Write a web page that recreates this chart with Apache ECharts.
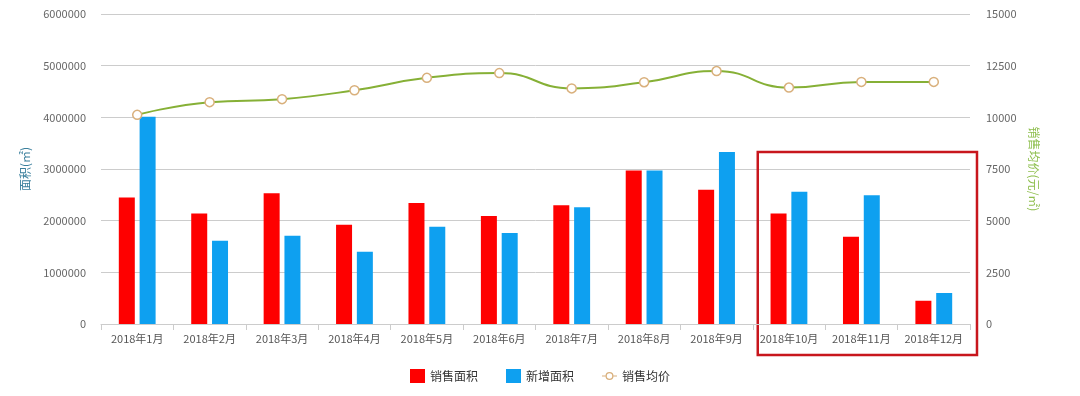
<!DOCTYPE html>
<html><head><meta charset="utf-8">
<script src="https://cdn.jsdelivr.net/npm/echarts@6/dist/echarts.min.js"></script>
<style>html,body{margin:0;padding:0;background:#fff}#c{width:1080px;height:396px}</style>
</head><body><div id="c"></div>
<script>
const categories = ['2018年1月','2018年2月','2018年3月','2018年4月','2018年5月','2018年6月','2018年7月','2018年8月','2018年9月','2018年10月','2018年11月','2018年12月'];
const salesArea = [2450000,2140000,2530000,1920000,2340000,2090000,2300000,2970000,2600000,2140000,1690000,450000];
const newArea = [4010000,1610000,1710000,1400000,1880000,1760000,2260000,2970000,3330000,2560000,2490000,600000];
const avgPrice = [10120,10735,10880,11310,11910,12140,11400,11700,12240,11440,11715,11715];
const leftTicks = [0,1000000,2000000,3000000,4000000,5000000,6000000];
const rightTicks = [0,2500,5000,7500,10000,12500,15000];

const FONT = '"Noto Sans CJK SC", "Noto Sans", sans-serif';
const ringIcon = 'path://M0,6.4 L3.5,6.4 L3.5,7.6 L0,7.6 Z M11.5,6.4 L15,6.4 L15,7.6 L11.5,7.6 Z ' +
  'M3.5,7 A4,4 0 1,1 11.5,7 A4,4 0 1,1 3.5,7 Z M4.8,7 A2.7,2.7 0 1,0 10.2,7 A2.7,2.7 0 1,0 4.8,7 Z';
const chart = echarts.init(document.getElementById('c'));
const option = {
  backgroundColor: '#fff',
  textStyle: {fontFamily: FONT},
  animation: false,
  grid: {left: 101, right: 110, top: 14, bottom: 72},
  legend: {
    bottom: 8, left: 'center', itemWidth: 15, itemHeight: 14, itemGap: 28,
    textStyle: {fontSize: 12, color: '#333', fontFamily: FONT},
    data: [
      {name:'销售面积', icon:'rect', itemStyle:{color:'#fe0000'}},
      {name:'新增面积', icon:'rect', itemStyle:{color:'#0ea0f0'}},
      {name:'销售均价', icon: ringIcon, itemStyle:{color:'#d9b07c', borderWidth:0}}
    ]
  },
  xAxis: {
    type: 'category', data: categories,
    axisLine: {lineStyle: {color: '#ccc'}},
    axisTick: {show: true, length: 6, lineStyle: {color: '#ccc'}},
    axisLabel: {color: '#555', fontSize: 11, margin: 9, interval: 0, fontFamily: FONT}
  },
  yAxis: [{
    type: 'value', min: leftTicks[0], max: leftTicks[leftTicks.length-1], interval: 1000000,
    name: '面积(㎡)', nameLocation: 'middle', nameGap: 70,
    nameTextStyle: {color: '#3a7f9c', fontSize: 12, fontFamily: FONT},
    axisLine: {show: false}, axisTick: {show: false},
    axisLabel: {color: '#666', fontSize: 11, margin: 15, fontFamily: FONT, formatter: v => String(v)},
    splitLine: {lineStyle: {color: '#ccc', width: 1}}
  },{
    type: 'value', min: rightTicks[0], max: rightTicks[rightTicks.length-1], interval: 2500,
    name: '销售均价(元/㎡)', nameLocation: 'middle', nameGap: 55, nameRotate: -90,
    nameTextStyle: {color: '#8fbf4f', fontSize: 12, fontFamily: FONT},
    axisLine: {show: false}, axisTick: {show: false},
    axisLabel: {color: '#666', fontSize: 11, margin: 16, fontFamily: FONT, formatter: v => String(v)},
    splitLine: {show: false}
  }],
  series: [{
    name: '销售面积', type: 'bar', data: salesArea, barWidth: 16, barGap: '30%',
    itemStyle: {color: '#fe0000'}
  },{
    name: '新增面积', type: 'bar', data: newArea, barWidth: 16,
    itemStyle: {color: '#0ea0f0'}
  },{
    name: '销售均价', type: 'line', yAxisIndex: 1, data: avgPrice, smooth: true,
    symbol: 'circle', symbolSize: 9, showAllSymbol: true,
    lineStyle: {color: '#86b036', width: 2},
    itemStyle: {color: '#fff', borderColor: '#d9b07c', borderWidth: 1.5},
    z: 5
  }]
};
chart.setOption(option);
// annotation box around the last three months
const p0 = chart.convertToPixel({xAxisIndex:0, yAxisIndex:0}, [9, 3000000]);
const p1 = chart.convertToPixel({xAxisIndex:0, yAxisIndex:0}, [11, 0]);
const half = 72.4/2;
chart.setOption({graphic: [{
  type: 'rect', silent: true,
  shape: {x: p0[0]-half+5, y: p0[1]-17, width: (p1[0]+half+7) - (p0[0]-half+5), height: (p1[1]+31) - (p0[1]-17)},
  style: {fill: 'none', stroke: '#c8161d', lineWidth: 2.5}
}]});
</script>
</body></html>
